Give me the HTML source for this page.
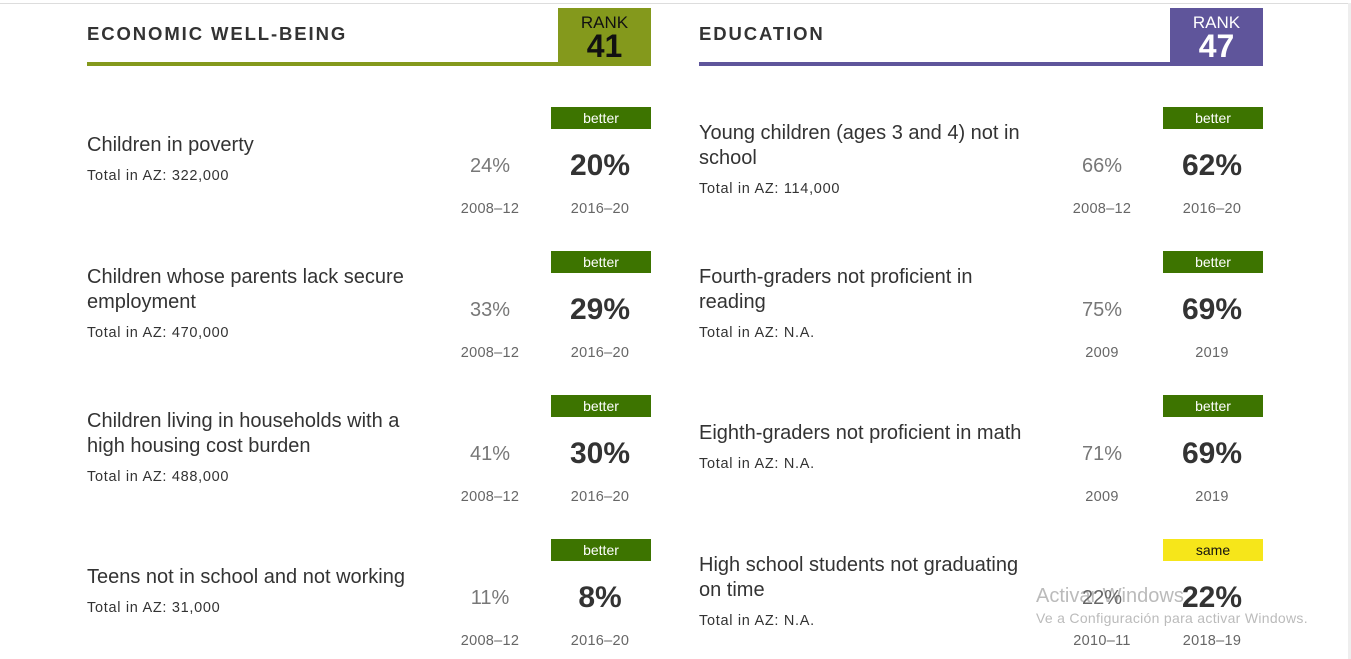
<!DOCTYPE html>
<html><head><meta charset="utf-8"><style>
*{margin:0;padding:0;box-sizing:border-box}
body{width:1351px;height:659px;position:relative;overflow:hidden;background:#fff;font-family:"Liberation Sans",Arial,sans-serif;color:#333}
.a{position:absolute;white-space:nowrap}
.t{font-size:20px;line-height:25px;color:#333;margin-top:1px}
.tot{font-size:14.5px;line-height:18px;color:#333;letter-spacing:0.7px;margin-top:1px}
.old{font-size:20px;line-height:24px;color:#777;width:100px;text-align:center;margin-top:1px}
.new{font-size:30px;font-weight:bold;line-height:34px;color:#333;width:100px;text-align:center;margin-top:1px}
.yr{font-size:14.5px;line-height:18px;color:#666;width:100px;text-align:center;letter-spacing:0.3px}
.bd{width:100px;height:22px;font-size:14px;line-height:22px;text-align:center;color:#fff;background:#3d7400}
.h{font-size:18.5px;font-weight:bold;letter-spacing:1.9px;color:#333}
.rk{width:93px;height:58px;text-align:center;color:#fff}
.rk .l{font-size:17px;line-height:17px;padding-top:6px}
.rk .n{font-size:32px;font-weight:bold;line-height:30px}
</style></head><body>
<div class="a" style="left:0;top:3px;width:1351px;height:1px;background:#ddd"></div>
<div class="a" style="left:1348px;top:3px;width:3px;height:656px;background:#eee"></div>

<div class="a h" style="left:87px;top:23px">ECONOMIC WELL-BEING</div>
<div class="a" style="left:87px;top:62px;width:564px;height:4px;background:#84991c"></div>
<div class="a rk" style="left:558px;top:8px;background:#84991c;color:#111"><div class="l">RANK</div><div class="n">41</div></div>

<div class="a h" style="left:699px;top:23px">EDUCATION</div>
<div class="a" style="left:699px;top:62px;width:564px;height:4px;background:#5f559b"></div>
<div class="a rk" style="left:1170px;top:8px;background:#5f559b"><div class="l">RANK</div><div class="n">47</div></div>

<div class="a bd" style="left:551px;top:107px">better</div>
<div class="a t" style="left:87px;top:132px">Children in poverty</div>
<div class="a tot" style="left:87px;top:166px">Total in AZ: 322,000</div>
<div class="a old" style="left:440px;top:153px">24%</div>
<div class="a new" style="left:550px;top:148px">20%</div>
<div class="a yr" style="left:440px;top:200px">2008–12</div>
<div class="a yr" style="left:550px;top:200px">2016–20</div>

<div class="a bd" style="left:551px;top:251px">better</div>
<div class="a t" style="left:87px;top:264px">Children whose parents lack secure<br>employment</div>
<div class="a tot" style="left:87px;top:323px">Total in AZ: 470,000</div>
<div class="a old" style="left:440px;top:297px">33%</div>
<div class="a new" style="left:550px;top:292px">29%</div>
<div class="a yr" style="left:440px;top:344px">2008–12</div>
<div class="a yr" style="left:550px;top:344px">2016–20</div>

<div class="a bd" style="left:551px;top:395px">better</div>
<div class="a t" style="left:87px;top:408px">Children living in households with a<br>high housing cost burden</div>
<div class="a tot" style="left:87px;top:467px">Total in AZ: 488,000</div>
<div class="a old" style="left:440px;top:441px">41%</div>
<div class="a new" style="left:550px;top:436px">30%</div>
<div class="a yr" style="left:440px;top:488px">2008–12</div>
<div class="a yr" style="left:550px;top:488px">2016–20</div>

<div class="a bd" style="left:551px;top:539px">better</div>
<div class="a t" style="left:87px;top:564px">Teens not in school and not working</div>
<div class="a tot" style="left:87px;top:598px">Total in AZ: 31,000</div>
<div class="a old" style="left:440px;top:585px">11%</div>
<div class="a new" style="left:550px;top:580px">8%</div>
<div class="a yr" style="left:440px;top:632px">2008–12</div>
<div class="a yr" style="left:550px;top:632px">2016–20</div>

<div class="a bd" style="left:1163px;top:107px">better</div>
<div class="a t" style="left:699px;top:120px">Young children (ages 3 and 4) not in<br>school</div>
<div class="a tot" style="left:699px;top:179px">Total in AZ: 114,000</div>
<div class="a old" style="left:1052px;top:153px">66%</div>
<div class="a new" style="left:1162px;top:148px">62%</div>
<div class="a yr" style="left:1052px;top:200px">2008–12</div>
<div class="a yr" style="left:1162px;top:200px">2016–20</div>

<div class="a bd" style="left:1163px;top:251px">better</div>
<div class="a t" style="left:699px;top:264px">Fourth-graders not proficient in<br>reading</div>
<div class="a tot" style="left:699px;top:323px">Total in AZ: N.A.</div>
<div class="a old" style="left:1052px;top:297px">75%</div>
<div class="a new" style="left:1162px;top:292px">69%</div>
<div class="a yr" style="left:1052px;top:344px">2009</div>
<div class="a yr" style="left:1162px;top:344px">2019</div>

<div class="a bd" style="left:1163px;top:395px">better</div>
<div class="a t" style="left:699px;top:420px">Eighth-graders not proficient in math</div>
<div class="a tot" style="left:699px;top:454px">Total in AZ: N.A.</div>
<div class="a old" style="left:1052px;top:441px">71%</div>
<div class="a new" style="left:1162px;top:436px">69%</div>
<div class="a yr" style="left:1052px;top:488px">2009</div>
<div class="a yr" style="left:1162px;top:488px">2019</div>

<div class="a bd" style="left:1163px;top:539px;background:#f6e61a;color:#111">same</div>
<div class="a t" style="left:699px;top:552px">High school students not graduating<br>on time</div>
<div class="a tot" style="left:699px;top:611px">Total in AZ: N.A.</div>
<div class="a" style="left:1036px;top:585px;font-size:20px;color:#bbb">Activar Windows</div>
<div class="a" style="left:1036px;top:610px;font-size:14px;color:#bbb;letter-spacing:0.3px">Ve a Configuración para activar Windows.</div>
<div class="a old" style="left:1052px;top:585px;color:#666">22%</div>
<div class="a new" style="left:1162px;top:580px">22%</div>
<div class="a yr" style="left:1052px;top:632px">2010–11</div>
<div class="a yr" style="left:1162px;top:632px">2018–19</div>
</body></html>
